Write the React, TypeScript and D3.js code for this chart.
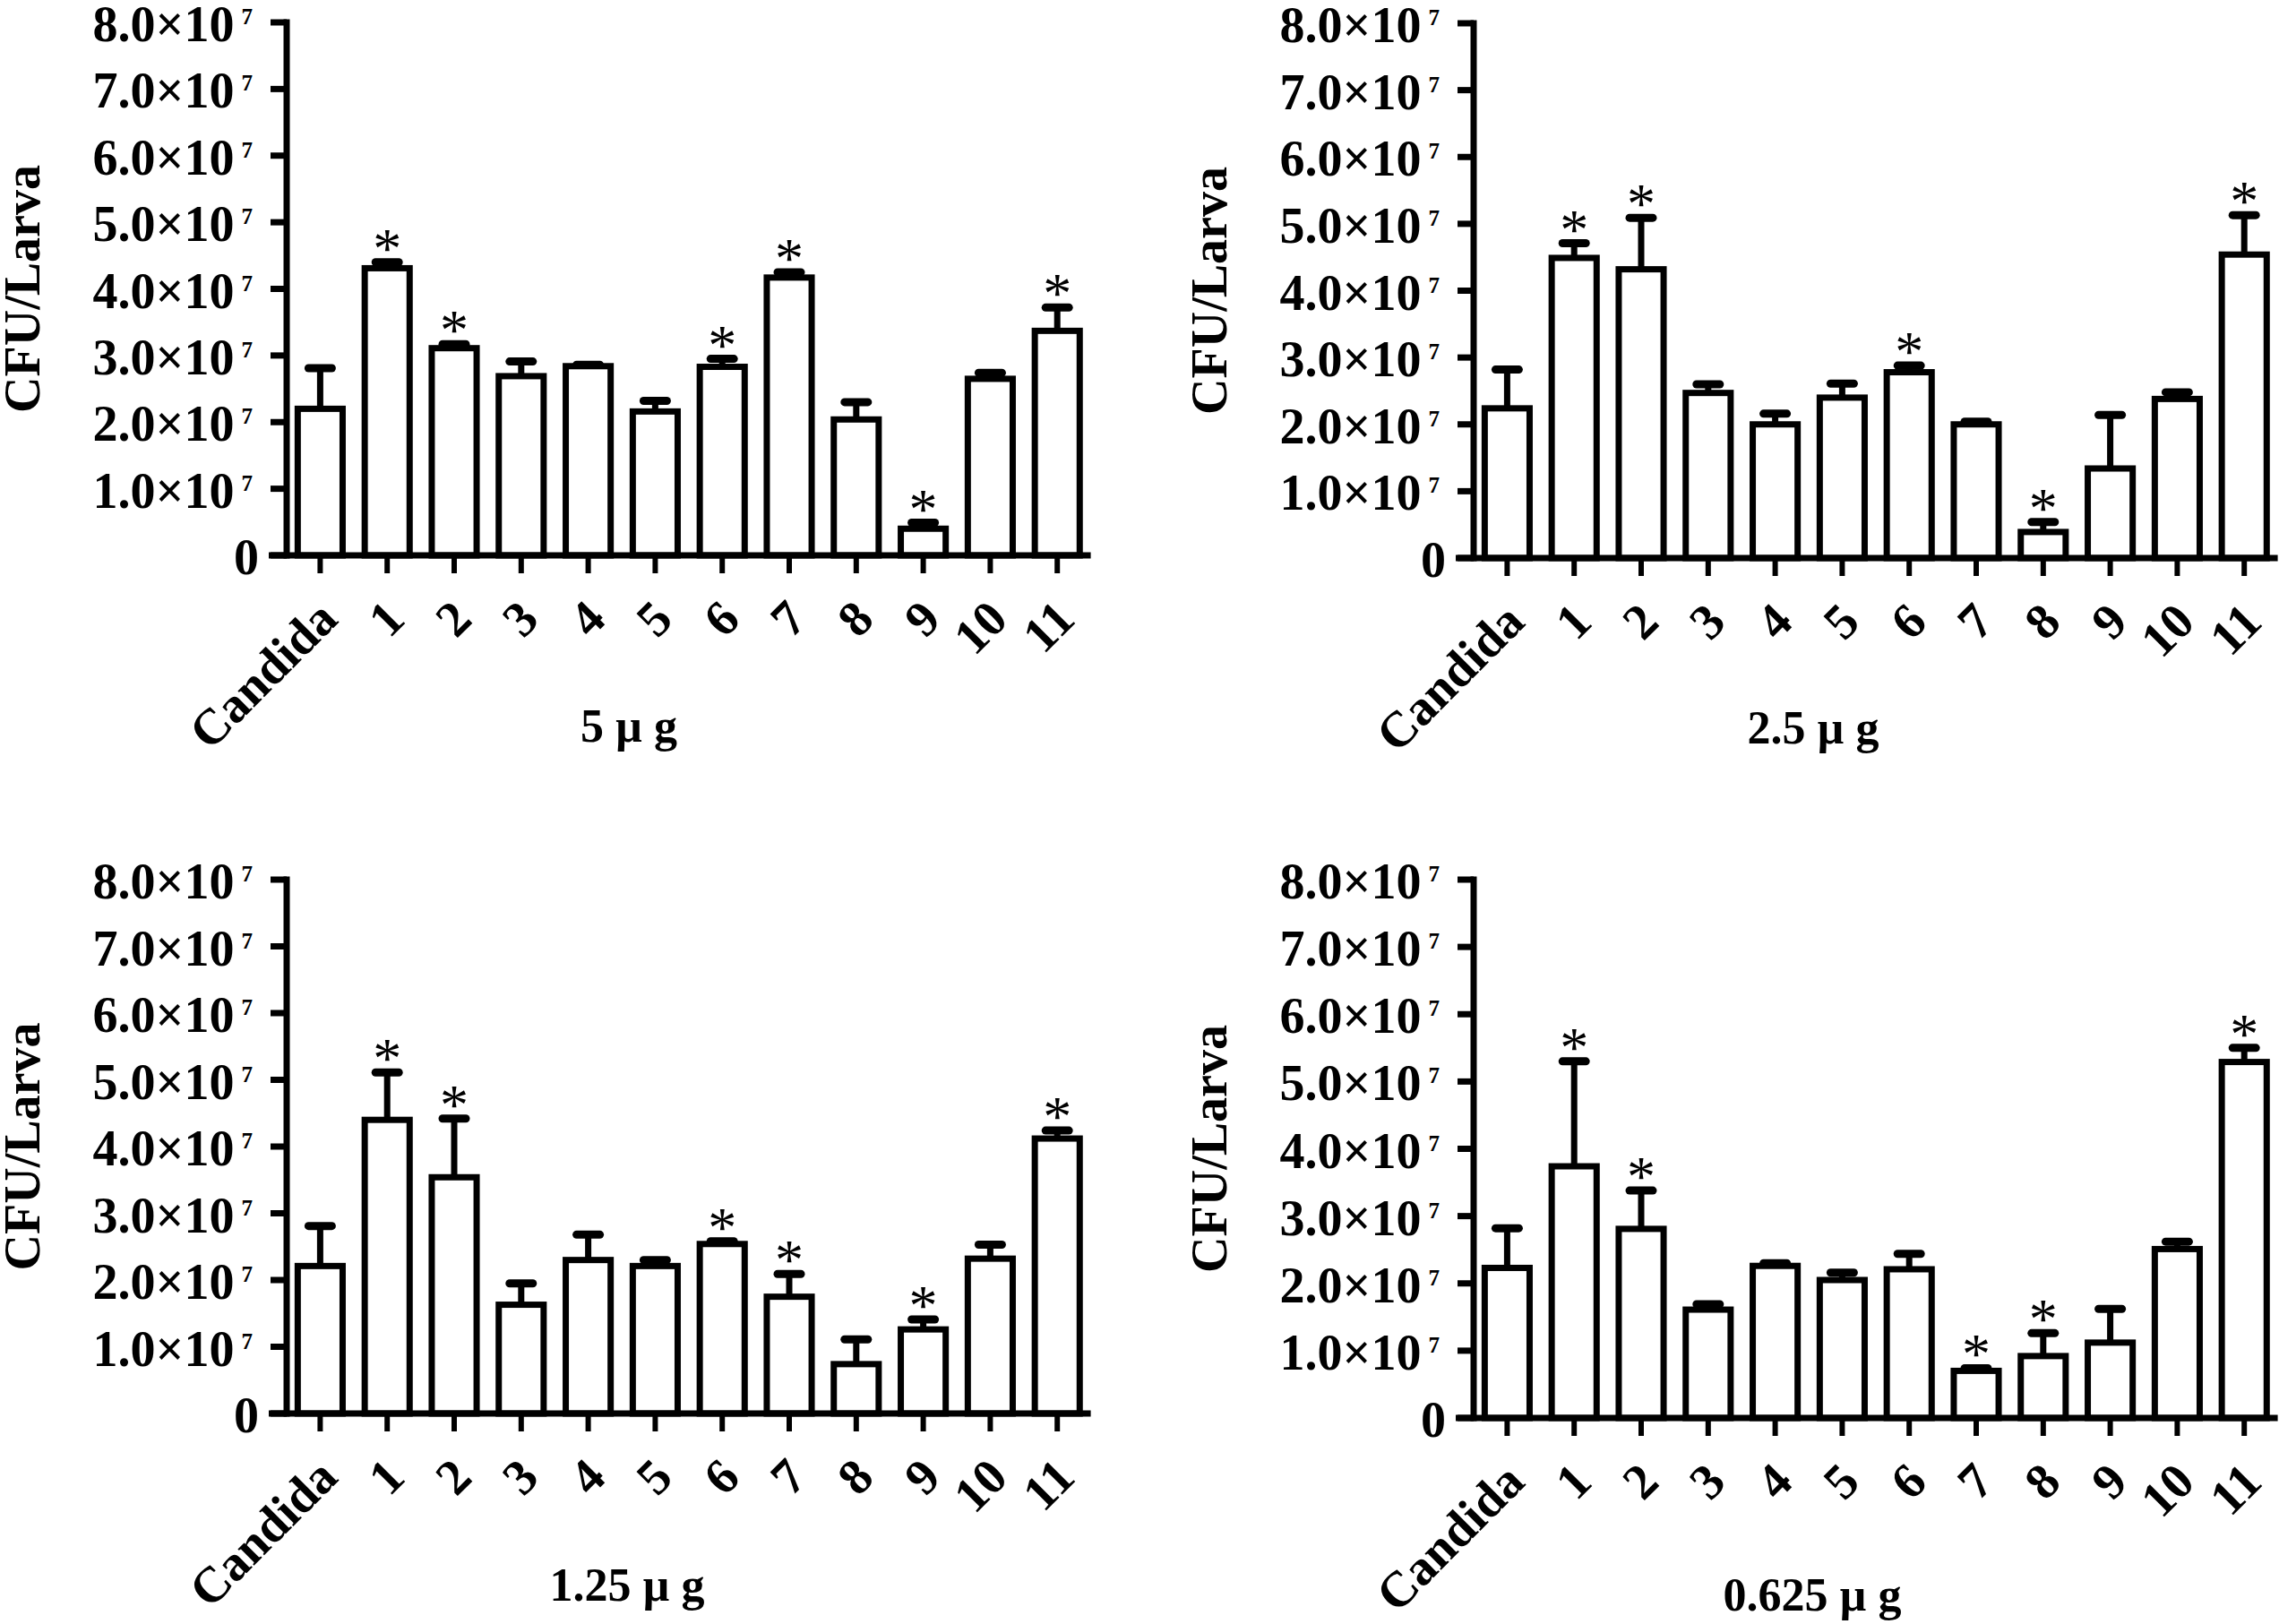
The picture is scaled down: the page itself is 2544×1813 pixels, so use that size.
import React from 'react';
import * as d3 from 'd3';

// values in units of 10^7 CFU/larva
const CATEGORIES = ['Candida', '1', '2', '3', '4', '5', '6', '7', '8', '9', '10', '11'];
const Y_TICKS = [0, 1, 2, 3, 4, 5, 6, 7, 8];
const DOSES = ['5 µ g', '2.5 µ g', '1.25 µ g', '0.625 µ g'];

const MEAN_5 = [2.2, 4.31, 3.11, 2.69, 2.84, 2.16, 2.83, 4.17, 2.04, 0.4, 2.65, 3.37];
const SEM_5 = [0.61, 0.09, 0.06, 0.22, 0.02, 0.16, 0.12, 0.08, 0.26, 0.09, 0.09, 0.35];
const STARS_5 = ['1', '2', '6', '7', '9', '11'];

const MEAN_2_5 = [2.24, 4.49, 4.32, 2.47, 2.0, 2.4, 2.78, 2.0, 0.39, 1.34, 2.38, 4.54];
const SEM_2_5 = [0.58, 0.22, 0.77, 0.13, 0.16, 0.21, 0.1, 0.04, 0.15, 0.8, 0.1, 0.59];
const STARS_2_5 = ['1', '2', '6', '8', '11'];

const MEAN_1_25 = [2.21, 4.4, 3.54, 1.63, 2.3, 2.21, 2.54, 1.75, 0.74, 1.26, 2.32, 4.12];
const SEM_1_25 = [0.6, 0.71, 0.88, 0.32, 0.38, 0.09, 0.04, 0.34, 0.37, 0.15, 0.21, 0.12];
const STARS_1_25 = ['1', '2', '6', '7', '9', '11'];

const MEAN_0_625 = [2.23, 3.74, 2.81, 1.61, 2.26, 2.05, 2.21, 0.7, 0.92, 1.12, 2.51, 5.29];
const SEM_0_625 = [0.59, 1.56, 0.57, 0.08, 0.04, 0.11, 0.23, 0.04, 0.34, 0.5, 0.11, 0.21];
const STARS_0_625 = ['1', '2', '7', '8', '11'];

const FONT = "'Liberation Serif', 'Times New Roman', serif";

const panels = [
  { left: 320, top: 25, zero: 620, titleX: 702, titleY: 828, mean: MEAN_5, sem: SEM_5, stars: STARS_5 },
  { left: 1645, top: 26, zero: 623, titleX: 2024, titleY: 830, mean: MEAN_2_5, sem: SEM_2_5, stars: STARS_2_5 },
  { left: 320, top: 982, zero: 1578, titleX: 700, titleY: 1787, mean: MEAN_1_25, sem: SEM_1_25, stars: STARS_1_25 },
  { left: 1645, top: 982, zero: 1583, titleX: 2023, titleY: 1798, mean: MEAN_0_625, sem: SEM_0_625, stars: STARS_0_625 },
];

const STEP = 74.8;

const Panel: React.FC<{ p: typeof panels[number]; title: string }> = ({ p, title }) => {
  const x = d3.scaleBand<string>()
    .domain(CATEGORIES)
    .range([p.left, p.left + STEP * CATEGORIES.length])
    .paddingInner(0.33)
    .paddingOuter(0.165);
  const y = d3.scaleLinear().domain([0, 8]).range([p.zero, p.top]);
  const bw = x.bandwidth();
  const right = p.left + STEP * CATEGORIES.length;

  return (
    <g fontFamily={FONT} fontWeight="bold">
      {CATEGORIES.map((c, i) => {
        const cx = (x(c) as number) + bw / 2;
        const yTop = y(p.mean[i]);
        const yErr = y(p.mean[i] + p.sem[i]);
        return (
          <g key={c}>
            <rect x={x(c)} y={yTop} width={bw} height={p.zero - yTop} fill="#fff" stroke="#000" strokeWidth={7} />
            <line x1={cx} x2={cx} y1={yTop} y2={yErr} stroke="#000" strokeWidth={7} />
            <line x1={cx - 13} x2={cx + 13} y1={yErr} y2={yErr} stroke="#000" strokeWidth={9} strokeLinecap="round" />
            {p.stars.includes(c) && (
              <text x={cx} y={yErr + 6} textAnchor="middle" fontSize={64} fontWeight="normal">*</text>
            )}
          </g>
        );
      })}

      {/* y axis */}
      <line x1={p.left} x2={p.left} y1={p.top} y2={p.zero} stroke="#000" strokeWidth={7} strokeLinecap="square" />
      {Y_TICKS.map(t => (
        <g key={t}>
          <line x1={p.left - 18} x2={p.left} y1={y(t)} y2={y(t)} stroke="#000" strokeWidth={7} />
          {t === 0 ? (
            <text x={p.left - 31} y={y(t) + 21} textAnchor="end" fontSize={56}>0</text>
          ) : (
            <text x={p.left - 38} y={y(t) + 21} textAnchor="end" fontSize={56}>
              {`${t}.0×10`}
              <tspan dx={8} dy={-19} fontSize={25}>7</tspan>
            </text>
          )}
        </g>
      ))}

      {/* x axis */}
      <line x1={p.left - 20} x2={right} y1={p.zero} y2={p.zero} stroke="#000" strokeWidth={7} />
      {CATEGORIES.map(c => {
        const cx = (x(c) as number) + bw / 2;
        return (
          <g key={'t' + c}>
            <line x1={cx} x2={cx} y1={p.zero} y2={p.zero + 20} stroke="#000" strokeWidth={6} />
            <text
              transform={`translate(${cx + 22},${p.zero + 74}) rotate(-45)`}
              textAnchor="end"
              fontSize={56}
            >
              {c}
            </text>
          </g>
        );
      })}

      <text
        transform={`translate(${p.left - 276},${(p.top + p.zero) / 2}) rotate(-90)`}
        textAnchor="middle"
        fontSize={56}
      >
        CFU/Larva
      </text>

      <text x={p.titleX} y={p.titleY} textAnchor="middle" fontSize={52}>{title}</text>
    </g>
  );
};

const App: React.FC = () => (
  <svg
    width={2544}
    height={1813}
    style={{ position: 'absolute', left: 0, top: 0, background: '#fff' }}
  >
    <rect width={2544} height={1813} fill="#fff" />
    {panels.map((p, i) => (
      <Panel key={i} p={p} title={DOSES[i]} />
    ))}
  </svg>
);

export default App;
